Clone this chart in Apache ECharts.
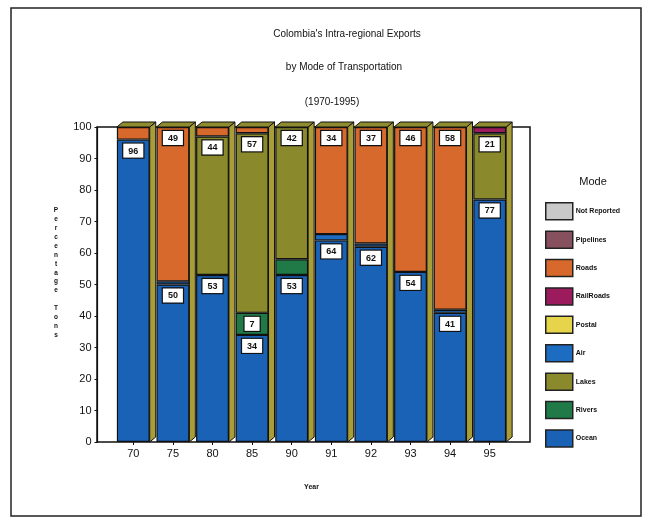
<!DOCTYPE html>
<html>
<head>
<meta charset="utf-8">
<script src="https://cdn.jsdelivr.net/npm/echarts@6/dist/echarts.min.js"></script>
<style>
  html, body { margin: 0; padding: 0; background: #fff; }
  #chart { width: 652px; height: 521px; }
</style>
</head>
<body>
<div id="chart"></div>
<script>
// Share of intra-regional export tonnage by transport mode, per year
const years = ['70', '75', '80', '85', '90', '91', '92', '93', '94', '95'];
const ocean       = [96, 50, 53, 34, 53, 64, 62, 54, 41, 77];
const rivers      = [0, 0, 0, 7, 5, 0, 0, 0, 0, 0];
const lakes       = [0, 0, 44, 57, 42, 0, 0, 0, 0, 21];
const air         = [0, 1, 0, 0, 0, 2, 1, 0, 1, 0];
const postal      = [0, 0, 0, 0, 0, 0, 0, 0, 0, 0];
const railRoads   = [0, 0, 0, 0, 0, 0, 0, 0, 0, 2];
const roads       = [4, 49, 3, 2, 0, 34, 37, 46, 58, 0];
const pipelines   = [0, 0, 0, 0, 0, 0, 0, 0, 0, 0];
const notReported = [0, 0, 0, 0, 0, 0, 0, 0, 0, 0];
const yTicks = [0, 10, 20, 30, 40, 50, 60, 70, 80, 90, 100];

const FONT = '"Liberation Sans", Arial, sans-serif';

// stacking order, bottom to top
const modes = [
  { name: 'Ocean',        data: ocean,       color: '#1a62b6' },
  { name: 'Rivers',       data: rivers,      color: '#1f7a48' },
  { name: 'Lakes',        data: lakes,       color: '#8a8a2c' },
  { name: 'Air',          data: air,         color: '#1c6cc2' },
  { name: 'Postal',       data: postal,      color: '#e6d54a' },
  { name: 'RailRoads',    data: railRoads,   color: '#9b1b5c' },
  { name: 'Roads',        data: roads,       color: '#d8692c' },
  { name: 'Pipelines',    data: pipelines,   color: '#87505e' },
  { name: 'Not Reported', data: notReported, color: '#c9c9c9' }
];

const totals = years.map((_, i) => modes.reduce((s, m) => s + m.data[i], 0));

const barSeries = modes.map(m => ({
  name: m.name,
  type: 'bar',
  stack: 'all',
  barWidth: '83%',
  xAxisIndex: 0,
  yAxisIndex: 0,
  itemStyle: { color: m.color, borderColor: '#111', borderWidth: 1.2 },
  label: {
    position: 'insideTop',
    distance: 4,
    backgroundColor: '#fff',
    borderColor: '#111',
    borderWidth: 1.2,
    padding: [3, 5, 2, 5],
    fontFamily: FONT,
    fontSize: 9,
    fontWeight: 'bold',
    color: '#111'
  },
  data: m.data.map(v => ({
    value: v === 0 ? null : v,
    label: { show: v >= 6 }
  }))
}));

// depth faces (top lid and right side) of each stacked column
const depthSeries = {
  type: 'custom',
  xAxisIndex: 0,
  yAxisIndex: 0,
  z: 1,
  silent: true,
  encode: { x: 0, y: 1 },
  data: totals.map((t, i) => [i, t]),
  renderItem: function (params, api) {
    const base = api.coord([api.value(0), 0]);
    const top = api.coord([api.value(0), api.value(1)]);
    const w = api.size([1, 0])[0] * 0.83;
    const dx = 6, dy = 5;
    const xl = base[0] - w / 2, xr = base[0] + w / 2;
    const style = { fill: '#8f8c2f', stroke: '#111', lineWidth: 1 };
    return {
      type: 'group',
      children: [
        { type: 'polygon', shape: { points: [[xr, base[1]], [xr + dx, base[1] - dy], [xr + dx, top[1] - dy], [xr, top[1]]] }, style: Object.assign({}, style, { fill: '#a89d36' }) },
        { type: 'polygon', shape: { points: [[xl, top[1]], [xl + dx, top[1] - dy], [xr + dx, top[1] - dy], [xr, top[1]]] }, style: style }
      ]
    };
  }
};

const chart = echarts.init(document.getElementById('chart'), null, { renderer: 'canvas' });
chart.setOption({
  animation: false,
  backgroundColor: '#fff',
  textStyle: { fontFamily: FONT },
  graphic: [{
    type: 'rect',
    shape: { x: 11, y: 8, width: 630, height: 508 },
    style: { fill: 'none', stroke: '#222', lineWidth: 1.5 },
    silent: true
  }],
  title: [
    { text: "Colombia's Intra-regional Exports", left: 342, top: 24, textAlign: 'center',
      textStyle: { fontFamily: FONT, fontSize: 10, fontWeight: 'normal', color: '#111' } },
    { text: 'by Mode of Transportation', left: 339, top: 57, textAlign: 'center',
      textStyle: { fontFamily: FONT, fontSize: 10, fontWeight: 'normal', color: '#111' } },
    { text: '(1970-1995)', left: 327, top: 92, textAlign: 'center',
      textStyle: { fontFamily: FONT, fontSize: 10, fontWeight: 'normal', color: '#111' } },
    { text: 'Mode', left: 588, top: 171, textAlign: 'center',
      textStyle: { fontFamily: FONT, fontSize: 11, fontWeight: 'normal', color: '#111' } },
    // vertical, letter-stacked y-axis caption
    { text: 'Percentage Tons'.split('').join('\n'), left: 56, top: 206, textAlign: 'center', padding: 0,
      textStyle: { fontFamily: FONT, fontSize: 6.5, fontWeight: 'bold', color: '#111', lineHeight: 8.9 } }
  ],
  legend: {
    orient: 'vertical',
    left: 545,
    top: 202,
    padding: 0,
    itemWidth: 27,
    itemHeight: 17,
    itemGap: 9.9,
    icon: 'rect',
    selectedMode: false,
    data: ['Not Reported', 'Pipelines', 'Roads', 'RailRoads', 'Postal', 'Air', 'Lakes', 'Rivers', 'Ocean'],
    itemStyle: { borderColor: '#222', borderWidth: 1.5 },
    textStyle: { fontFamily: FONT, fontSize: 7, fontWeight: 'bold', color: '#111', padding: [0, 0, 0, -2] }
  },
  grid: [
    { left: 113.5, width: 396, top: 127, bottom: 79 },
    { left: 97, right: 122, top: 127, bottom: 79, show: true, borderColor: '#111', borderWidth: 1.5, backgroundColor: 'transparent' }
  ],
  xAxis: [
    {
      type: 'category',
      gridIndex: 0,
      data: years,
      name: 'Year',
      nameLocation: 'middle',
      nameGap: 42,
      nameTextStyle: { fontFamily: FONT, fontSize: 7, fontWeight: 'bold', color: '#111' },
      axisLine: { show: false },
      axisTick: { show: true, alignWithLabel: true, length: 3, lineStyle: { color: '#111' } },
      axisLabel: { fontFamily: FONT, fontSize: 11, color: '#111', margin: 6 }
    },
    { type: 'value', gridIndex: 1, show: false }
  ],
  yAxis: [
    {
      type: 'value',
      gridIndex: 0,
      min: 0,
      max: 100,
      interval: 10,
      offset: 16,
      axisLine: { show: true, lineStyle: { color: '#111', width: 1.2 } },
      axisTick: { show: true, length: 3, lineStyle: { color: '#111' } },
      splitLine: { show: false },
      axisLabel: {
        fontFamily: FONT, fontSize: 11, color: '#111', margin: 6, padding: [0, 0, 9, 0],
        formatter: v => (yTicks.indexOf(v) >= 0 ? String(v) : '')
      }
    },
    { type: 'value', gridIndex: 1, show: false }
  ],
  series: barSeries.concat([depthSeries])
});
</script>
</body>
</html>
